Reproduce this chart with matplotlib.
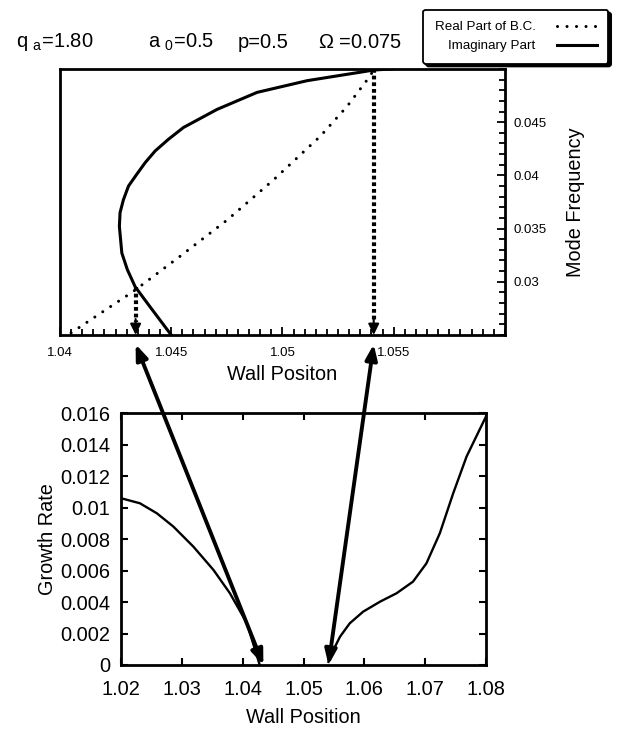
import matplotlib
matplotlib.use("Agg")
import matplotlib.pyplot as plt
from matplotlib.patches import ConnectionPatch
from matplotlib.ticker import MultipleLocator
import matplotlib.transforms as mtransforms

plt.rcParams['font.family'] = ['Liberation Sans', 'DejaVu Sans']
plt.rcParams['mathtext.default'] = 'regular'

# painel de cima: frequencia do modo vs posicao da parede
imag_wall = [1.0450, 1.04405, 1.04338, 1.04303, 1.04278, 1.04267, 1.0427, 1.04285,
             1.04308, 1.04345, 1.04383, 1.04428, 1.04488, 1.04555, 1.04706,
             1.04886, 1.05111, 1.05261, 1.05411, 1.0549]
imag_freq = [0.0250, 0.02764, 0.02953, 0.03113, 0.0327, 0.0352, 0.0365, 0.0377,
             0.0390, 0.0401, 0.0412, 0.0423, 0.0434, 0.0445, 0.0462,
             0.0478, 0.0489, 0.0494, 0.0499, 0.0500]

real_wall = [1.0405, 1.0433, 1.0454, 1.04751, 1.04961, 1.05171, 1.05291, 1.05396, 1.0541]
real_freq = [0.0252, 0.0291, 0.0324, 0.0358, 0.0396, 0.0437, 0.0465, 0.0494, 0.0500]

# pontos onde a parte real e imaginaria se cruzam (frequencia)
cross_wall = [1.0434, 1.0541]
cross_freq = [0.0295, 0.0500]

# painel de baixo: taxa de crescimento
left_wall = [1.0200, 1.0231, 1.0259, 1.0286, 1.0319, 1.0352, 1.0379, 1.0407, 1.0428]
left_rate = [0.0106, 0.01028, 0.00964, 0.0088, 0.00752, 0.00604, 0.00456, 0.00265, 0.0]

right_wall = [1.0541, 1.0549, 1.0560, 1.0576, 1.0598, 1.0626, 1.0653, 1.0680,
              1.0702, 1.0724, 1.0746, 1.0768, 1.0800]
right_rate = [0.0002, 0.00095, 0.0018, 0.00265, 0.00339, 0.00403, 0.00456, 0.0053,
              0.00646, 0.00837, 0.01091, 0.01325, 0.0158]

fig = plt.figure(figsize=(6.19, 7.29), dpi=100)

ax1 = fig.add_axes([0.0969, 0.5405, 0.7189, 0.3649])
ax2 = fig.add_axes([0.1955, 0.0878, 0.5897, 0.3453])

# --- painel de cima ---
l_real, = ax1.plot(real_wall, real_freq, color='k', lw=2.2,
                   linestyle=(0, (0.01, 3.1)), dash_capstyle='round',
                   label='Real Part of B.C.')
l_imag, = ax1.plot(imag_wall, imag_freq, color='k', lw=2.2,
                   solid_joinstyle='round', label='Imaginary Part')

for xw, yf in zip(cross_wall, cross_freq):
    ax1.plot([xw, xw], [yf, 0.0262], color='k', lw=3.0, linestyle=(0, (0.9, 0.7)))
    ax1.annotate('', xy=(xw, 0.0250), xytext=(xw, 0.0265),
                 arrowprops=dict(arrowstyle='-|>,head_length=0.65,head_width=0.32',
                                 color='k', lw=1.5, shrinkA=0, shrinkB=0))

ax1.set_xlim(1.04, 1.06)
ax1.set_ylim(0.025, 0.050)
ax1.set_xticks([1.04, 1.045, 1.05, 1.055])
ax1.set_xticklabels(['1.04', '1.045', '1.05', '1.055'])
ax1.xaxis.set_minor_locator(MultipleLocator(0.0005))
ax1.set_yticks([0.03, 0.035, 0.04, 0.045])
ax1.set_yticklabels(['0.03', '0.035', '0.04', '0.045'])
ax1.yaxis.set_minor_locator(MultipleLocator(0.001))
ax1.yaxis.tick_right()
ax1.yaxis.set_label_position('right')
ax1.tick_params(which='both', direction='in', labelsize=9.5, width=1.3)
ax1.tick_params(which='major', length=6)
ax1.tick_params(which='minor', length=4)
ax1.tick_params(axis='x', which='major', pad=9)
ax1.tick_params(axis='y', which='major', pad=6)
ax1.tick_params(axis='y', which='both', left=False, right=True)
ax1.tick_params(axis='x', which='both', top=False, bottom=True)
for s in ax1.spines.values():
    s.set_linewidth(2)
ax1.set_xlabel('Wall Positon', fontsize=14.3, labelpad=4)
ax1.set_ylabel('Mode Frequency', fontsize=14.3, labelpad=14)

# --- painel de baixo ---
ax2.plot(left_wall, left_rate, color='k', lw=1.7, solid_joinstyle='round')
ax2.plot(right_wall, right_rate, color='k', lw=1.7, solid_joinstyle='round')
ax2.set_xlim(1.02, 1.08)
ax2.set_ylim(0, 0.016)
ax2.set_xticks([1.02, 1.03, 1.04, 1.05, 1.06, 1.07, 1.08])
ax2.set_xticklabels(['1.02', '1.03', '1.04', '1.05', '1.06', '1.07', '1.08'])
ax2.set_yticks([0, 0.002, 0.004, 0.006, 0.008, 0.01, 0.012, 0.014, 0.016])
ax2.set_yticklabels(['0', '0.002', '0.004', '0.006', '0.008', '0.01', '0.012', '0.014', '0.016'])
ax2.tick_params(direction='in', length=5, width=1.5, labelsize=14.4,
                top=True, right=True)
ax2.tick_params(axis='x', pad=11)
ax2.tick_params(axis='y', pad=8)
for s in ax2.spines.values():
    s.set_linewidth(2)
ax2.set_xlabel('Wall Position', fontsize=14.3, labelpad=6)
ax2.set_ylabel('Growth Rate', fontsize=14.3, labelpad=2)

# setas ligando os dois paineis
trans_top = mtransforms.blended_transform_factory(ax1.transData, ax1.transAxes)
for xw in cross_wall:
    con = ConnectionPatch(xyA=(xw, -0.035), coordsA=trans_top,
                          xyB=(xw, 0.0), coordsB=ax2.transData,
                          arrowstyle='<|-|>,head_length=0.9,head_width=0.35',
                          color='k', lw=2.8, shrinkA=0, shrinkB=0)
    fig.add_artist(con)

# titulo com os parametros
fig.text(16 / 619, 1 - 42 / 729, 'q $_{a}$=1.80', fontsize=14.5, va='center')
fig.text(148 / 619, 1 - 42 / 729, 'a $_{0}$=0.5', fontsize=14.5, va='center')
fig.text(238 / 619, 1 - 42 / 729, 'p=0.5', fontsize=14.5, va='center')
fig.text(318 / 619, 1 - 42 / 729, r'$\Omega$ =0.075', fontsize=14.5, va='center')

leg = fig.legend(handles=[l_real, l_imag], loc='upper right',
                 bbox_to_anchor=(615 / 619, 1 - 3 / 729), fontsize=9.6,
                 markerfirst=False, handlelength=3.0, handletextpad=1.6,
                 labelspacing=0.5, borderpad=0.85, fancybox=True,
                 shadow={'color': 'k', 'alpha': 1}, framealpha=1,
                 edgecolor='k')
leg.get_frame().set_linewidth(1.3)

fig.savefig('out.png', dpi=100)
